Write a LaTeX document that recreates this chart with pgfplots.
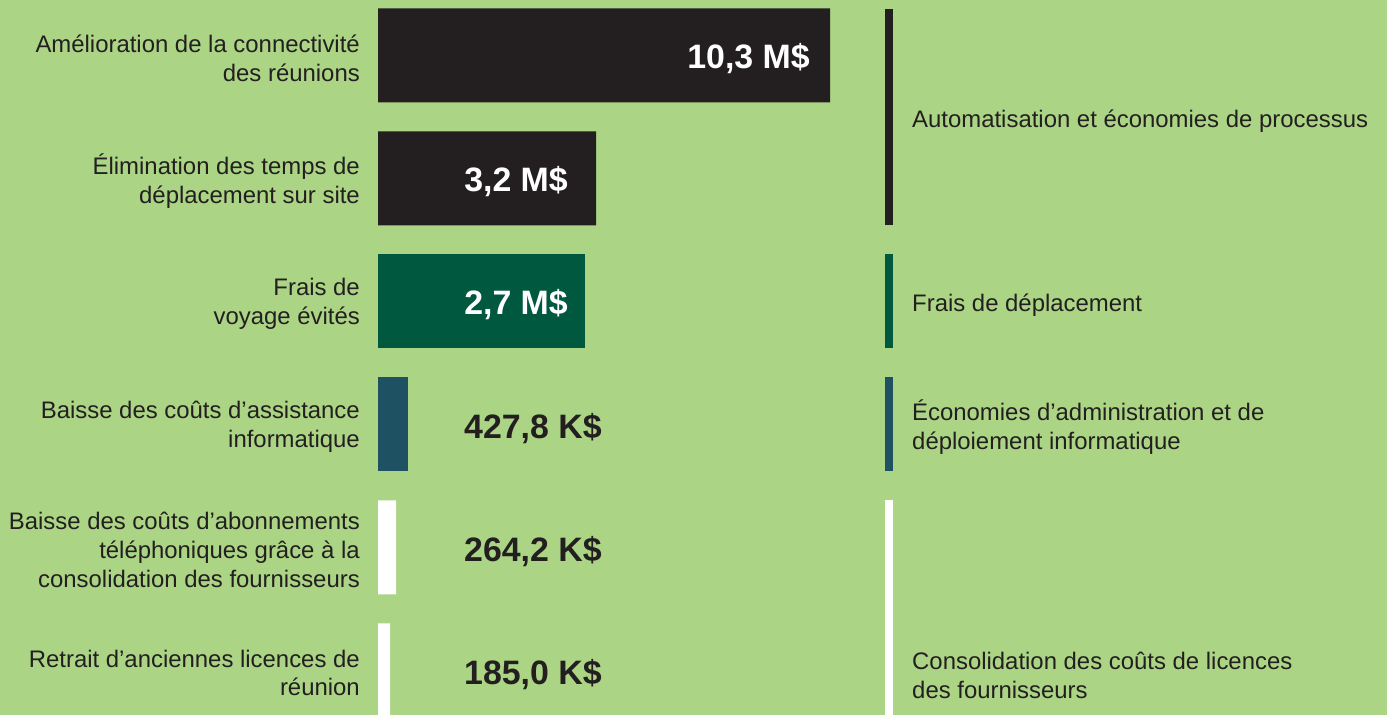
\documentclass[border=0pt]{standalone}
\usepackage{pgfplots}
\pgfplotsset{compat=1.18}
\usepackage{fontspec}
\setmainfont{Liberation Sans}

\definecolor{bg}{RGB}{171,212,133}
\definecolor{txt}{RGB}{35,31,32}
\definecolor{barblack}{RGB}{35,31,32}
\definecolor{bargreen}{RGB}{0,88,63}
\definecolor{barteal}{RGB}{30,81,98}

\newcommand{\lab}{\fontsize{24}{29}\selectfont}
\newcommand{\val}{\fontsize{34}{40}\selectfont\bfseries}

\tikzset{
  lab/.style={font=\lab, text=txt, inner sep=0pt},
  val/.style={font=\val, inner sep=0pt},
}
\pgfplotsset{hbar/.style={xbar, bar width=94bp, bar shift=0pt, draw=none}}

\begin{document}
\begin{tikzpicture}
\begin{axis}[
  scale only axis, width=1387bp, height=715bp,
  xmin=-378, xmax=1009, ymin=-0.451, ymax=5.362, y dir=reverse,
  axis line style={draw=none}, ticks=none,
  axis background/.style={fill=bg},
  ]
% bar lengths as drawn (pixels); the scale of the original is not linear
\addplot[hbar, fill=barblack] coordinates {(452,0) (218,1)};
\addplot[hbar, fill=bargreen] coordinates {(207,2)};
\addplot[hbar, fill=barteal] coordinates {(30,3)};
\addplot[hbar, fill=white] coordinates {(18,4) (12,5)};

% category labels
\node[lab, anchor=east, align=right] at (axis cs:-18,0.02) {Amélioration de la connectivité\\des réunions};
\node[lab, anchor=east, align=right] at (axis cs:-18,1.02) {Élimination des temps de\\déplacement sur site};
\node[lab, anchor=east, align=right] at (axis cs:-18,2.02) {Frais de\\voyage évités};
\node[lab, anchor=east, align=right] at (axis cs:-18,3.02) {Baisse des coûts d’assistance\\informatique};
\node[lab, anchor=east, align=right] at (axis cs:-18,4.02) {Baisse des coûts d’abonnements\\téléphoniques grâce à la\\consolidation des fournisseurs};
\node[lab, anchor=east, align=right] at (axis cs:-18,5.02) {Retrait d’anciennes licences de\\réunion};

% values
\node[val, text=white, anchor=base east] at (axis cs:432,0.105) {10,3 M\$};
\node[val, text=white, anchor=base east] at (axis cs:190,1.105) {3,2 M\$};
\node[val, text=white, anchor=base east] at (axis cs:190,2.105) {2,7 M\$};
\node[val, text=txt, anchor=base west] at (axis cs:86,3.11) {427,8 K\$};
\node[val, text=txt, anchor=base west] at (axis cs:86,4.11) {264,2 K\$};
\node[val, text=txt, anchor=base west] at (axis cs:86,5.11) {185,0 K\$};

% groups on the right
\draw[line width=8bp, barblack] (axis cs:511,-0.378) -- (axis cs:511,1.378);
\draw[line width=8bp, bargreen] (axis cs:511,1.618) -- (axis cs:511,2.382);
\draw[line width=8bp, barteal] (axis cs:511,2.618) -- (axis cs:511,3.382);
\draw[line width=8bp, white] (axis cs:511,3.618) -- (axis cs:511,5.362);
\node[lab, anchor=west, align=left] at (axis cs:534,0.535) {Automatisation et économies de processus};
\node[lab, anchor=west, align=left] at (axis cs:534,2.03) {Frais de déplacement};
\node[lab, anchor=west, align=left] at (axis cs:534,3.02) {Économies d’administration et de\\déploiement informatique};
\node[lab, anchor=west, align=left] at (axis cs:534,5.04) {Consolidation des coûts de licences\\des fournisseurs};
\end{axis}
\end{tikzpicture}
\end{document}
